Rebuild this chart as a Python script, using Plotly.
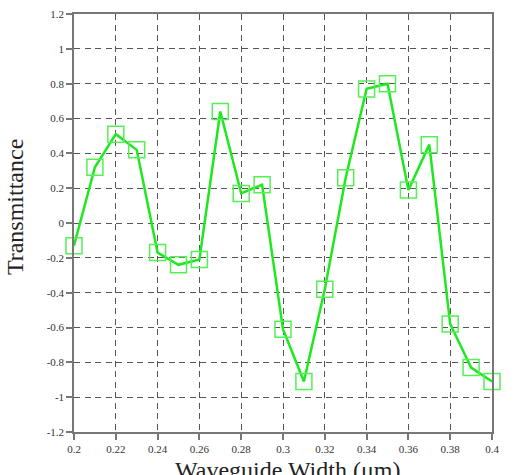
import plotly.graph_objects as go

width_um = [0.20, 0.21, 0.22, 0.23, 0.24, 0.25, 0.26, 0.27, 0.28, 0.29, 0.30,
            0.31, 0.32, 0.33, 0.34, 0.35, 0.36, 0.37, 0.38, 0.39, 0.40]
transmittance = [-0.13, 0.32, 0.51, 0.42, -0.17, -0.24, -0.21, 0.64, 0.17, 0.22, -0.61,
                 -0.91, -0.38, 0.26, 0.77, 0.80, 0.19, 0.45, -0.58, -0.83, -0.91]
x_ticks = [0.2, 0.22, 0.24, 0.26, 0.28, 0.3, 0.32, 0.34, 0.36, 0.38, 0.4]
x_tick_labels = ["0.2", "0.22", "0.24", "0.26", "0.28", "0.3", "0.32", "0.34", "0.36", "0.38", "0.4"]
y_ticks = [-1.2, -1, -0.8, -0.6, -0.4, -0.2, 0, 0.2, 0.4, 0.6, 0.8, 1, 1.2]
y_tick_labels = ["-1.2", "-1", "-0.8", "-0.6", "-0.4", "-0.2", "0", "0.2", "0.4", "0.6", "0.8", "1", "1.2"]
x_title = "Waveguide Width (μm)"
y_title = "Transmittance"

fig = go.Figure()
fig.add_trace(go.Scatter(
    x=width_um, y=transmittance, mode="lines+markers",
    line=dict(color="#1ee81e", width=2.5),
    marker=dict(symbol="square-open", size=16, color="#55f055", line=dict(width=1.5, color="#55f055")),
    cliponaxis=False, showlegend=False,
))

font = "Liberation Serif"
fig.update_layout(
    width=516, height=475,
    margin=dict(l=74, r=24, t=14, b=43, autoexpand=False),
    paper_bgcolor="white", plot_bgcolor="white",
    font=dict(family=font, color="#333333"),
)
common = dict(
    tickfont=dict(size=11, family=font, color="#333333"),
    showline=True, linecolor="#777777", linewidth=1.5, mirror=True,
    ticks="outside", ticklen=6, tickcolor="#777777", tickwidth=1.5,
    showgrid=True, gridcolor="#555555", gridwidth=1.3, griddash="6px,4.5px",
    zeroline=False, automargin=False,
)
fig.update_xaxes(range=[0.2, 0.4], tickvals=x_ticks, ticktext=x_tick_labels, **common)
fig.update_yaxes(range=[-1.2, 1.2], tickvals=y_ticks, ticktext=y_tick_labels, **common)

fig.add_annotation(text=x_title, xref="paper", yref="paper", x=0.51, y=0,
                   xanchor="center", yanchor="top", yshift=-23, showarrow=False,
                   font=dict(size=24, family=font, color="#222222"))
fig.add_annotation(text=y_title, xref="paper", yref="paper", x=0, y=0.538,
                   xanchor="center", yanchor="middle", xshift=-59, textangle=-90, showarrow=False,
                   font=dict(size=24, family=font, color="#222222"))
fig.write_html("out.html")
